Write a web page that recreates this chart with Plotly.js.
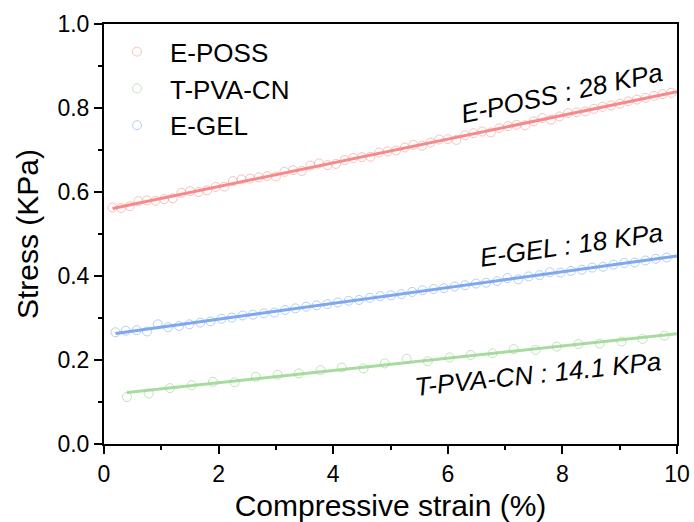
<!DOCTYPE html>
<html>
<head>
<meta charset="utf-8">
<script src="https://cdn.plot.ly/plotly-3.0.1.min.js"></script>
<style>html,body{margin:0;padding:0;background:#fff}#chart{width:694px;height:522px}</style>
</head>
<body>
<div id="chart"></div>
<script>
// ---- data ----
const seriesNames = ["E-POSS", "T-PVA-CN", "E-GEL"];

const eposs_x = [0.15,0.30,0.45,0.60,0.75,0.90,1.05,1.20,1.35,1.50,1.65,1.80,1.95,2.10,2.25,2.40,2.55,2.70,2.85,3.00,
  3.15,3.30,3.45,3.60,3.75,3.90,4.05,4.20,4.35,4.50,4.65,4.80,4.95,5.10,5.25,5.40,5.55,5.70,5.85,6.00,
  6.15,6.30,6.45,6.60,6.75,6.90,7.05,7.20,7.35,7.50,7.65,7.80,7.95,8.10,8.25,8.40,8.55,8.70,8.85,9.00,
  9.15,9.30,9.45,9.60,9.75,9.90];
const eposs_y = [0.563,0.562,0.566,0.578,0.580,0.579,0.583,0.585,0.598,0.602,0.600,0.604,0.612,0.613,0.626,0.630,0.632,0.635,0.638,0.637,
  0.648,0.652,0.650,0.663,0.668,0.664,0.667,0.676,0.681,0.683,0.684,0.694,0.697,0.699,0.706,0.712,0.710,0.718,0.725,0.726,
  0.724,0.735,0.740,0.744,0.742,0.752,0.757,0.760,0.759,0.768,0.776,0.772,0.780,0.788,0.790,0.792,0.798,0.803,0.806,0.810,
  0.816,0.820,0.824,0.829,0.833,0.836];

const tpva_x = [0.40,0.78,1.15,1.53,1.90,2.28,2.65,3.03,3.40,3.78,4.15,4.53,4.90,5.28,5.65,6.03,6.40,6.78,7.15,7.53,
  7.90,8.28,8.65,9.03,9.40,9.78];
const tpva_y = [0.112,0.120,0.133,0.140,0.148,0.147,0.160,0.165,0.168,0.176,0.182,0.180,0.192,0.203,0.197,0.206,0.212,0.216,0.226,0.224,
  0.232,0.238,0.239,0.244,0.250,0.258];

const egel_x = [0.20,0.38,0.57,0.75,0.94,1.12,1.31,1.49,1.68,1.86,2.05,2.23,2.42,2.60,2.79,2.97,3.16,3.34,3.53,3.71,
  3.90,4.08,4.27,4.45,4.64,4.82,5.01,5.19,5.38,5.56,5.75,5.93,6.12,6.30,6.49,6.67,6.86,7.04,7.23,7.41,
  7.60,7.78,7.97,8.15,8.34,8.52,8.71,8.89,9.08,9.26,9.45,9.63,9.82];
const egel_y = [0.266,0.270,0.271,0.268,0.285,0.278,0.281,0.285,0.289,0.292,0.298,0.301,0.306,0.308,0.311,0.313,0.319,0.323,0.327,0.330,
  0.333,0.337,0.341,0.343,0.348,0.352,0.354,0.357,0.362,0.366,0.369,0.371,0.375,0.378,0.382,0.384,0.388,0.395,0.392,0.399,
  0.402,0.409,0.408,0.412,0.415,0.420,0.422,0.427,0.431,0.432,0.437,0.441,0.444];

const annoTexts = ["E-POSS : 28 KPa", "E-GEL : 18 KPa", "T-PVA-CN : 14.1 KPa"];
const xTickVals = [0, 2, 4, 6, 8, 10];
const yTickVals = [0.0, 0.2, 0.4, 0.6, 0.8, 1.0];

// ---- styling ----
const lineColors   = {"E-POSS": "#F58A8A", "T-PVA-CN": "#A8DBA0", "E-GEL": "#7FA8F0"};
const markerColors = {"E-POSS": "rgba(245,140,140,0.55)", "T-PVA-CN": "rgba(150,210,140,0.6)", "E-GEL": "rgba(120,165,240,0.55)"};
const FONT = "Arial, 'Liberation Sans', sans-serif";
const XMAX = 10;

function linfit(xs, ys) {
  const n = xs.length;
  let sx = 0, sy = 0, sxx = 0, sxy = 0;
  for (let i = 0; i < n; i++) { sx += xs[i]; sy += ys[i]; sxx += xs[i]*xs[i]; sxy += xs[i]*ys[i]; }
  const b = (n*sxy - sx*sy) / (n*sxx - sx*sx);
  const a = (sy - b*sx) / n;
  return [a, b];
}

const dataSets = {"E-POSS": [eposs_x, eposs_y], "T-PVA-CN": [tpva_x, tpva_y], "E-GEL": [egel_x, egel_y]};
const traces = [];
seriesNames.forEach(name => {
  const [xs, ys] = dataSets[name];
  const [a, b] = linfit(xs, ys);
  const x0 = xs[0];
  traces.push({x: [x0, XMAX], y: [a + b*x0, a + b*XMAX], mode: "lines", type: "scatter",
    line: {color: lineColors[name], width: 3}, showlegend: false, hoverinfo: "skip", cliponaxis: true});
});
seriesNames.forEach(name => {
  const [xs, ys] = dataSets[name];
  traces.push({x: xs, y: ys, name: name, mode: "markers", type: "scatter",
    marker: {symbol: "circle-open", size: 9, color: markerColors[name], line: {width: 1, color: markerColors[name]}},
    cliponaxis: false});
});

const annotations = [
  {x: 7.99, y: 0.836, text: annoTexts[0], textangle: -12},
  {x: 8.15, y: 0.474, text: annoTexts[1], textangle: -8},
  {x: 7.57, y: 0.167, text: annoTexts[2], textangle: -6}
].map(a => Object.assign(a, {xref: "x", yref: "y", showarrow: false,
  font: {family: FONT, size: 26, color: "#000", style: "italic"}}));

const layout = {
  width: 694, height: 522,
  margin: {l: 104, r: 17, t: 24, b: 78},
  paper_bgcolor: "#fff", plot_bgcolor: "#fff",
  font: {family: FONT, color: "#000"},
  showlegend: true,
  legend: {x: 0.0, y: 0.99, xanchor: "left", yanchor: "top", bgcolor: "rgba(0,0,0,0)",
    font: {family: FONT, size: 26, color: "#000"}, traceorder: "normal", itemwidth: 56},
  xaxis: {range: [0, 10], tickvals: xTickVals, ticktext: xTickVals.map(String),
    ticks: "outside", ticklen: 8, tickwidth: 2, tickcolor: "#000",
    minor: {dtick: 1, tick0: 0, ticks: "outside", ticklen: 4, tickwidth: 2, tickcolor: "#000", showgrid: false},
    showline: true, linecolor: "#000", linewidth: 2, mirror: true, showgrid: false, zeroline: false,
    tickfont: {family: FONT, size: 23, color: "#000"},
    title: {text: "Compressive strain (%)", font: {family: FONT, size: 30, color: "#000"}, standoff: 10}},
  yaxis: {range: [0, 1], tickvals: yTickVals, ticktext: yTickVals.map(v => v.toFixed(1)),
    ticks: "outside", ticklen: 8, tickwidth: 2, tickcolor: "#000",
    minor: {dtick: 0.1, tick0: 0, ticks: "outside", ticklen: 4, tickwidth: 2, tickcolor: "#000", showgrid: false},
    showline: true, linecolor: "#000", linewidth: 2, mirror: true, showgrid: false, zeroline: false,
    tickfont: {family: FONT, size: 23, color: "#000"},
    title: {text: "Stress (KPa)", font: {family: FONT, size: 30, color: "#000"}, standoff: 10}},
  annotations: annotations
};

Plotly.newPlot("chart", traces, layout, {staticPlot: true, displayModeBar: false});
</script>
</body>
</html>
